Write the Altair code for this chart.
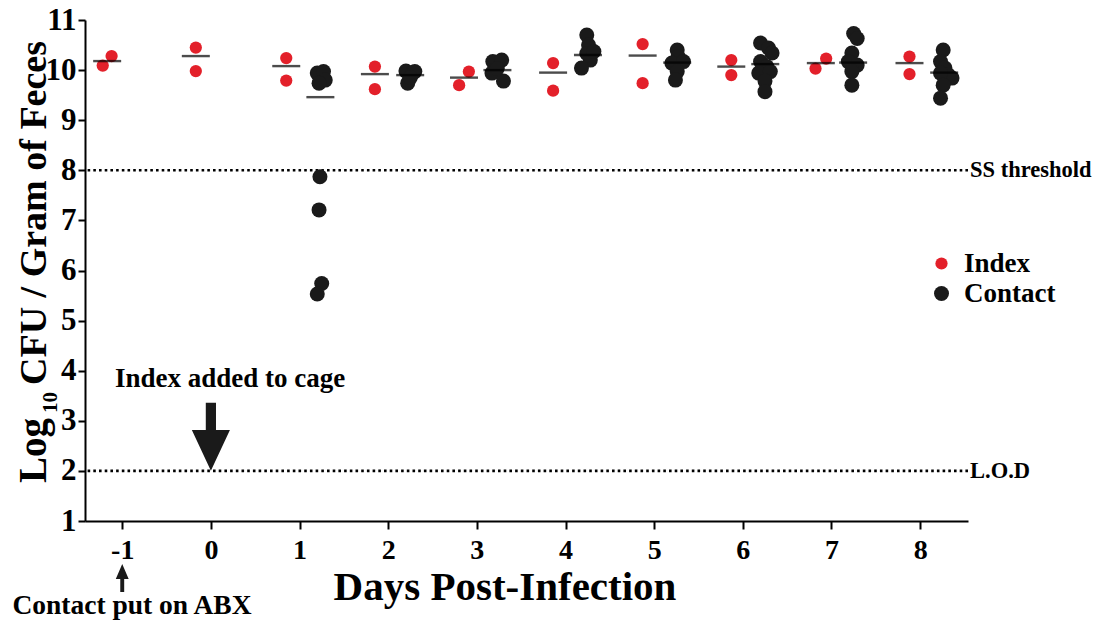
import altair as alt
import pandas as pd
import numpy as np

RED = "#e3202a"
BLACK = "#1a1a1a"
FONT = "Liberation Serif"

# ---- data ----
index_day = [-1, -1, 0, 0, 1, 1, 2, 2, 3, 3, 4, 4, 5, 5, 6, 6, 7, 7, 8, 8]
index_value = [10.09, 10.28, 10.45, 9.98, 10.24, 9.79, 10.07, 9.62, 9.70, 9.97,
               10.14, 9.59, 10.52, 9.74, 10.20, 9.90, 10.03, 10.23, 10.27, 9.92]
index_jitter = [-0.22, -0.12, -0.17, -0.17, -0.15, -0.15, -0.15, -0.15, -0.20, -0.09,
                -0.14, -0.14, -0.13, -0.13, -0.13, -0.13, -0.18, -0.06, -0.12, -0.12]

contact_day = ([1] * 8 + [2] * 5 + [3] * 5 + [4] * 6 + [5] * 6 + [6] * 9 + [7] * 7 + [8] * 8)
contact_value = [9.94, 9.97, 9.80, 9.74, 7.87, 7.21, 5.74, 5.53,
                 9.98, 9.94, 9.74, 9.97, 9.85,
                 10.17, 10.20, 9.94, 9.78, 10.03,
                 10.70, 10.50, 10.33, 10.20, 10.04, 10.37,
                 10.40, 10.27, 10.14, 10.17, 9.97, 9.80,
                 10.54, 10.44, 10.34, 10.17, 10.07, 9.94, 9.97, 9.78, 9.57,
                 10.73, 10.63, 10.34, 10.17, 10.10, 9.97, 9.70,
                 10.40, 10.17, 10.04, 9.84, 9.90, 9.94, 9.70, 9.44]
contact_jitter = [0.20, 0.27, 0.29, 0.22, 0.23, 0.22, 0.25, 0.20,
                  0.20, 0.27, 0.22, 0.30, 0.25,
                  0.18, 0.28, 0.17, 0.30, 0.23,
                  0.24, 0.26, 0.24, 0.28, 0.18, 0.32,
                  0.26, 0.27, 0.20, 0.33, 0.26, 0.24,
                  0.20, 0.29, 0.33, 0.20, 0.27, 0.18, 0.31, 0.25, 0.25,
                  0.25, 0.29, 0.23, 0.19, 0.29, 0.23, 0.23,
                  0.26, 0.23, 0.28, 0.36, 0.32, 0.23, 0.26, 0.23]

index_line_day = [-1, 0, 1, 2, 3, 4, 5, 6, 7, 8]
index_line_value = [10.18, 10.28, 10.08, 9.92, 9.85, 9.95, 10.29, 10.07, 10.14, 10.14]
contact_line_day = [1, 2, 3, 4, 5, 6, 7, 8]
contact_line_value = [9.46, 9.90, 10.00, 10.30, 10.15, 10.12, 10.15, 9.95]

x_ticks = [-1, 0, 1, 2, 3, 4, 5, 6, 7, 8]
y_ticks = [1, 2, 3, 4, 5, 6, 7, 8, 9, 10, 11]
groups = ["Index", "Contact"]
thresholds = [8, 2]
threshold_labels = ["SS threshold", "L.O.D"]

# ---- tables ----
pts = pd.concat([
    pd.DataFrame({"day": index_day, "value": index_value, "jit": index_jitter, "group": "Index"}),
    pd.DataFrame({"day": contact_day, "value": contact_value, "jit": contact_jitter, "group": "Contact"}),
], ignore_index=True)
pts["x"] = pts["day"] + pts["jit"]

mean_jit = pts.groupby(["group", "day"])["jit"].mean()
lines = pd.concat([
    pd.DataFrame({"day": index_line_day, "value": index_line_value, "group": "Index"}),
    pd.DataFrame({"day": contact_line_day, "value": contact_line_value, "group": "Contact"}),
], ignore_index=True)
lines["x"] = [d + mean_jit[(g, d)] for d, g in zip(lines["day"], lines["group"])]

thr = pd.DataFrame({"value": thresholds, "label": threshold_labels})

xscale = alt.Scale(domain=[-1.42, 8.54], nice=False, zero=False)
yscale = alt.Scale(domain=[1, 11], nice=False, zero=False)

xaxis = alt.Axis(values=x_ticks, title=None, labelFont=FONT, labelFontWeight="bold",
                 labelFontSize=28, labelColor="black", labelPadding=7, tickSize=8,
                 tickWidth=2, tickColor="black", domainColor="black", domainWidth=2,
                 grid=False, labelExpr="datum.value + ''")
yaxis = alt.Axis(values=y_ticks, title=None, labelFont=FONT, labelFontWeight="bold",
                 labelFontSize=31, labelColor="black", labelPadding=2, tickSize=7,
                 tickWidth=2, tickColor="black", domainColor="black", domainWidth=2,
                 grid=False, labelExpr="datum.value + ''")

rules = alt.Chart(thr).mark_rule(color="black", strokeWidth=2.6, strokeDash=[2.6, 3.1]).encode(
    y=alt.Y("value:Q", scale=yscale, axis=yaxis)
)
rule_text = alt.Chart(thr).mark_text(font=FONT, fontWeight="bold", fontSize=22.5, align="left",
                                     baseline="middle", color="black").encode(
    x=alt.value(885), y=alt.Y("value:Q", scale=yscale), text="label:N"
)

legend_cfg = dict(title=None, orient="none", legendX=843, legendY=230,
                  labelFont=FONT, labelFontWeight="bold", labelFontSize=27,
                  labelColor="black", labelOffset=9, rowPadding=2,
                  padding=0, symbolStrokeWidth=0)

points = alt.Chart(pts).mark_circle(opacity=1).encode(
    x=alt.X("x:Q", scale=xscale, axis=xaxis),
    y=alt.Y("value:Q", scale=yscale, axis=yaxis),
    color=alt.Color("group:N", scale=alt.Scale(domain=groups, range=[RED, BLACK]),
                    legend=alt.Legend(**legend_cfg)),
    size=alt.Size("group:N", scale=alt.Scale(domain=groups, range=[150, 225]),
                  legend=alt.Legend(**legend_cfg)),
    order=alt.Order("group:N", sort="ascending"),
)

means = alt.Chart(lines).mark_tick(orient="horizontal", size=28, thickness=2.4, color="black").encode(
    x=alt.X("x:Q", scale=xscale),
    y=alt.Y("value:Q", scale=yscale),
)

big_arrow_path = "M-0.15,-1L0.15,-1L0.15,-0.2L0.56,-0.2L0,1L-0.56,-0.2L-0.15,-0.2Z"
small_arrow_path = "M0,-1L0.46,0.07L0.14,0.07L0.14,1L-0.14,1L-0.14,0.07L-0.46,0.07Z"
anno = pd.DataFrame({"day": [0, -1]})
big_arrow = alt.Chart(anno.iloc[[0]]).mark_point(shape=big_arrow_path, filled=True, opacity=1,
                                                 color=BLACK, size=4624, strokeWidth=0).encode(
    x=alt.X("day:Q", scale=xscale), y=alt.datum(2.68)
)
small_arrow = alt.Chart(anno.iloc[[1]]).mark_point(shape=small_arrow_path, filled=True, opacity=1,
                                                   color=BLACK, size=784, strokeWidth=0).encode(
    x=alt.X("day:Q", scale=xscale), y=alt.value(558)
)


def txt(t, x, y, size, align="center", angle=0, baseline="alphabetic"):
    return alt.Chart(pd.DataFrame({"t": [t]})).mark_text(
        font=FONT, fontWeight="bold", fontSize=size, align=align, angle=angle,
        baseline=baseline, color="black"
    ).encode(x=alt.value(x), y=alt.value(y), text="t:N")


annotations = [
    txt("Index added to cage", 145, 367, 27),
    txt("Contact put on ABX", 47, 594, 27.5),
    txt("Days Post-Infection", 420, 580, 41),
    txt("Log", -39, 463, 39, align="left", angle=270),
    txt("10", -28, 393, 21, align="left", angle=270),
    txt("CFU / Gram of Feces", -39, 365, 38, align="left", angle=270),
]

chart = alt.layer(rules, rule_text, points, means, big_arrow, small_arrow, *annotations).properties(
    width=883, height=501,
    autosize=alt.AutoSizeParams(type="none"),
    padding={"left": 77, "top": 12, "right": 131, "bottom": 100},
).configure_view(stroke=None).resolve_scale(x="shared", y="shared")

chart.save("out.html", embed_options={"renderer": "svg", "actions": False})
